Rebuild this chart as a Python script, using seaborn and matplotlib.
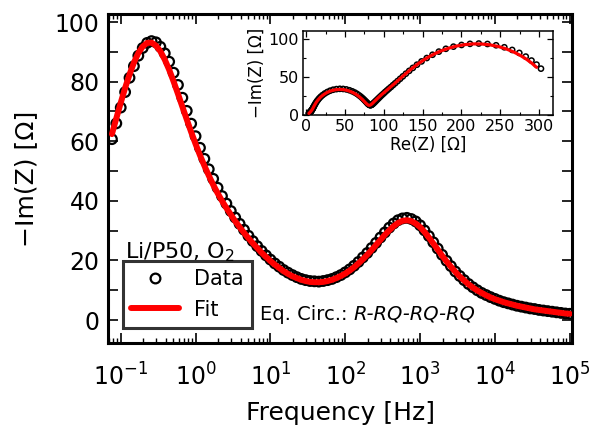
import numpy as np
import matplotlib
matplotlib.use("Agg")
import matplotlib.pyplot as plt
from matplotlib.lines import Line2D
from matplotlib.ticker import MultipleLocator, LogLocator, NullFormatter, FixedLocator, LogFormatterSciNotation
import seaborn as sns
import pandas as pd

# Impedance spectrum of the Li/P50 cell under O2: measured points and equivalent-circuit fit
freq_hz = [100000, 87330, 76270, 66610, 58170, 50800, 44370, 38750, 33840, 29550,
           25810, 22540, 19680, 17190, 15010, 13110, 11450, 10000, 8733, 7627,
           6661, 5817, 5080, 4437, 3875, 3384, 2955, 2581, 2254, 1968,
           1719, 1501, 1311, 1145, 1000, 873.3, 762.7, 666.1, 581.7, 508,
           443.7, 387.5, 338.4, 295.5, 258.1, 225.4, 196.8, 171.9, 150.1, 131.1,
           114.5, 100, 87.33, 76.27, 66.61, 58.17, 50.8, 44.37, 38.75, 33.84,
           29.55, 25.81, 22.54, 19.68, 17.19, 15.01, 13.11, 11.45, 10, 8.733,
           7.627, 6.661, 5.817, 5.08, 4.437, 3.875, 3.384, 2.955, 2.581, 2.254,
           1.968, 1.719, 1.501, 1.311, 1.145, 1, 0.8733, 0.7627, 0.6661, 0.5817,
           0.508, 0.4437, 0.3875, 0.3384, 0.2955, 0.2581, 0.2254, 0.1968, 0.1719, 0.1501,
           0.1311, 0.1145, 0.1, 0.08733, 0.07627]

re_fit = [3.6, 3.8, 3.9, 4.1, 4.3, 4.5, 4.7, 4.9, 5.1, 5.3,
          5.6, 5.9, 6.1, 6.4, 6.7, 7.0, 7.4, 7.7, 8.1, 8.5,
          8.9, 9.3, 9.8, 10.4, 11.1, 11.9, 12.8, 14.0, 15.3, 17.0,
          18.9, 21.3, 24.0, 27.2, 30.8, 34.7, 38.8, 43.1, 47.3, 51.4,
          55.2, 58.6, 61.7, 64.5, 66.9, 69.0, 70.8, 72.4, 73.8, 75.0,
          76.0, 77.0, 77.8, 78.6, 79.2, 79.9, 80.5, 81.0, 81.6, 82.2,
          82.8, 83.5, 84.2, 84.9, 85.8, 86.7, 87.7, 88.9, 90.1, 91.5,
          93.0, 94.6, 96.3, 98.2, 100.3, 102.5, 104.8, 107.2, 109.8, 112.6,
          115.5, 118.6, 122.0, 125.7, 129.7, 134.1, 139.1, 144.6, 150.8, 157.7,
          165.4, 173.9, 183.3, 193.3, 203.9, 214.9, 226.0, 237.1, 247.9, 258.1,
          267.6, 276.2, 284.0, 290.9, 296.8]

mim_fit = [2.1, 2.2, 2.4, 2.6, 2.8, 3.0, 3.2, 3.4, 3.6, 3.9,
           4.2, 4.5, 4.8, 5.2, 5.6, 6.0, 6.5, 7.0, 7.6, 8.3,
           9.1, 9.9, 10.9, 12.0, 13.3, 14.6, 16.2, 17.9, 19.7, 21.6,
           23.7, 25.7, 27.7, 29.6, 31.2, 32.4, 33.2, 33.5, 33.3, 32.6,
           31.5, 30.1, 28.6, 26.9, 25.2, 23.5, 21.9, 20.4, 19.0, 17.7,
           16.6, 15.6, 14.8, 14.1, 13.5, 13.1, 12.8, 12.7, 12.7, 12.8,
           13.1, 13.5, 14.1, 14.7, 15.5, 16.4, 17.5, 18.6, 19.8, 21.2,
           22.6, 24.2, 25.8, 27.5, 29.3, 31.2, 33.2, 35.4, 37.6, 40.0,
           42.6, 45.4, 48.5, 51.8, 55.3, 59.1, 63.1, 67.3, 71.6, 75.9,
           80.1, 84.0, 87.4, 90.2, 92.1, 93.1, 93.0, 91.8, 89.6, 86.4,
           82.4, 77.9, 72.9, 67.7, 62.4]

re_data = [3.6, 3.8, 3.9, 4.1, 4.3, 4.5, 4.7, 4.9, 5.1, 5.3,
           5.6, 5.9, 6.1, 6.4, 6.7, 7.0, 7.4, 7.7, 8.1, 8.5,
           8.9, 9.3, 9.8, 10.4, 11.1, 11.9, 12.8, 13.9, 15.3, 16.9,
           18.9, 21.3, 24.1, 27.3, 30.9, 34.8, 39.1, 43.4, 47.7, 51.9,
           55.9, 59.5, 62.7, 65.5, 68.0, 70.2, 72.1, 73.7, 75.1, 76.4,
           77.5, 78.4, 79.3, 80.0, 80.7, 81.4, 82.0, 82.5, 83.1, 83.7,
           84.3, 85.0, 85.7, 86.5, 87.3, 88.3, 89.3, 90.4, 91.7, 93.1,
           94.6, 96.2, 98.0, 100.0, 102.0, 104.3, 106.6, 109.2, 111.9, 114.7,
           117.8, 121.1, 124.6, 128.5, 132.8, 137.5, 142.8, 148.7, 155.4, 162.8,
           171.0, 180.0, 189.8, 200.2, 211.1, 222.4, 233.6, 244.7, 255.3, 265.4,
           274.6, 282.9, 290.3, 296.8, 302.5]

mim_data = [2.1, 2.2, 2.4, 2.6, 2.8, 3.0, 3.2, 3.4, 3.7, 3.9,
            4.2, 4.5, 4.8, 5.2, 5.6, 6.0, 6.5, 7.1, 7.7, 8.4,
            9.1, 10.0, 11.0, 12.1, 13.4, 14.8, 16.3, 18.1, 19.9, 21.9,
            24.0, 26.1, 28.2, 30.1, 31.8, 33.1, 33.9, 34.3, 34.1, 33.5,
            32.4, 31.0, 29.4, 27.7, 25.9, 24.2, 22.5, 21.0, 19.5, 18.2,
            17.0, 16.0, 15.1, 14.4, 13.8, 13.4, 13.1, 12.9, 13.0, 13.1,
            13.4, 13.8, 14.4, 15.1, 15.9, 16.8, 17.9, 19.0, 20.3, 21.7,
            23.2, 24.8, 26.5, 28.3, 30.3, 32.3, 34.4, 36.6, 39.1, 41.6,
            44.4, 47.4, 50.6, 54.1, 57.8, 61.7, 65.9, 70.2, 74.6, 78.9,
            83.0, 86.7, 89.5, 91.7, 93.2, 93.6, 93.0, 91.3, 88.7, 85.2,
            81.3, 76.5, 71.3, 66.0, 60.7]

freq_ticks = [1e-1, 1e0, 1e1, 1e2, 1e3, 1e4, 1e5]

fit = pd.DataFrame({"freq": freq_hz, "re": re_fit, "mim": mim_fit})
dat = pd.DataFrame({"freq": freq_hz, "re": re_data, "mim": mim_data})

sns.set_theme(style="ticks")
plt.rcParams['font.family'] = ['DejaVu Sans']
plt.rcParams['mathtext.fontset'] = 'dejavusans'
for key in ["text.color", "axes.labelcolor", "xtick.color", "ytick.color", "axes.edgecolor"]:
    plt.rcParams[key] = "black"

fig = plt.figure(figsize=(5.91, 4.30), dpi=100)

# Main panel: -Im(Z) against frequency
ax = fig.add_axes([108/591, 1-343/430, 464/591, 329/430])
sns.scatterplot(data=dat, x="freq", y="mim", ax=ax, marker="o", s=48, facecolor="none",
                edgecolor="black", linewidth=1.6, zorder=2, legend=False)
sns.lineplot(data=fit, x="freq", y="mim", ax=ax, color="red", lw=4.3, sort=False, zorder=3)
ax.set_xscale("log")
ax.set_xlim(10**-1.17, 10**5.03)
ax.set_ylim(-7.7, 102.7)
ax.yaxis.set_major_locator(MultipleLocator(20))
ax.yaxis.set_minor_locator(MultipleLocator(10))
ax.xaxis.set_major_locator(FixedLocator(freq_ticks))
ax.xaxis.set_major_formatter(LogFormatterSciNotation())
ax.xaxis.set_minor_locator(LogLocator(base=10, subs=np.arange(2, 10), numticks=20))
ax.xaxis.set_minor_formatter(NullFormatter())
ax.tick_params(which="both", direction="in", top=True, right=True, labelsize=17)
ax.tick_params(axis="x", which="major", length=7, width=1.2, pad=15)
ax.tick_params(axis="x", which="minor", length=3.5, width=1.0)
ax.tick_params(axis="y", which="both", length=7, width=1.2, pad=6)
for s in ax.spines.values():
    s.set_linewidth(2.2)
ax.set_xlabel("Frequency [Hz]", fontsize=18, labelpad=7)
ax.set_ylabel("\u2212Im(Z) [\u03a9]", fontsize=18, labelpad=12)

handles = [Line2D([], [], ls="", marker="o", ms=7, mfc="none", mec="black", mew=1.6),
           Line2D([], [], color="red", lw=4.3)]
leg = ax.legend(handles, ["Data", "Fit"], loc="lower left", bbox_to_anchor=(0.032, 0.046),
                borderaxespad=0, fontsize=15, frameon=True, fancybox=False,
                handlelength=2.3, handletextpad=0.7, labelspacing=0.5, borderpad=0.4)
leg.get_frame().set_edgecolor("black")
leg.get_frame().set_linewidth(2.2)
ax.text(0.037, 0.258, "Li/P50, O$_2$", transform=ax.transAxes, fontsize=16, va="baseline")
t1 = ax.text(260/591, 1-320/430, "Eq. Circ.: ", transform=fig.transFigure, fontsize=14, va="baseline")
ax.annotate("R-RQ-RQ-RQ", xy=(1, 0), xycoords=t1, fontsize=14, va="bottom", ha="left",
            style="italic")

# Inset: Nyquist representation
ins = fig.add_axes([303/591, 1-115/430, 250/591, 84/430])
sns.scatterplot(data=dat, x="re", y="mim", ax=ins, marker="o", s=14, facecolor="none",
                edgecolor="black", linewidth=1.1, zorder=2, legend=False)
sns.lineplot(data=fit, x="re", y="mim", ax=ins, color="red", lw=2.3, sort=False, zorder=3)
ins.set_xlim(-4, 318)
ins.set_ylim(0, 110)
ins.xaxis.set_major_locator(MultipleLocator(50))
ins.xaxis.set_minor_locator(MultipleLocator(25))
ins.yaxis.set_major_locator(MultipleLocator(50))
ins.yaxis.set_minor_locator(MultipleLocator(25))
ins.tick_params(which="both", direction="in", top=True, right=True, labelsize=11.5, pad=3)
ins.tick_params(which="major", length=4, width=0.9)
ins.tick_params(which="minor", length=2, width=0.8)
for s in ins.spines.values():
    s.set_linewidth(1.1)
ins.set_xlabel("Re(Z) [\u03a9]", fontsize=12, labelpad=1)
ins.set_ylabel("\u2212Im(Z) [\u03a9]", fontsize=12, labelpad=2)

fig.savefig("out.png", dpi=100)
